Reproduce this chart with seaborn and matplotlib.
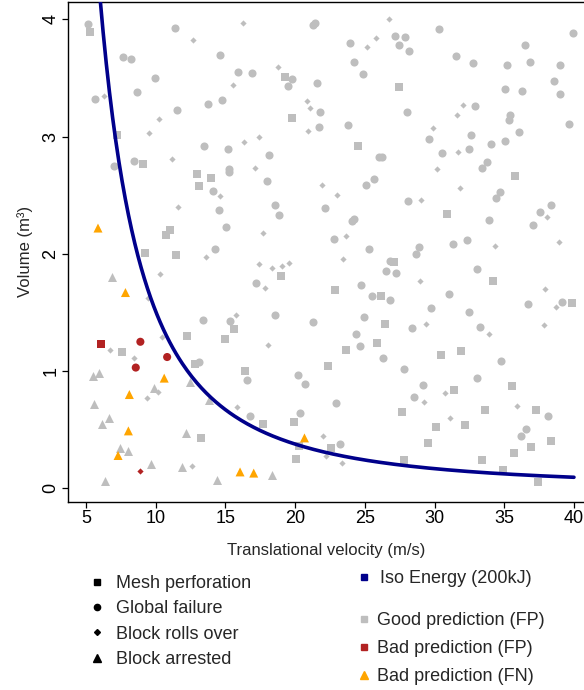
import numpy as np
import pandas as pd
import seaborn as sns
import matplotlib.pyplot as plt
from matplotlib.lines import Line2D

# values: velocity (m/s), volume (m3)
# good predictions, grouped by outcome
square_vel = [5.31, 7.25, 9.12, 19.26, 19.76, 27.45, 24.5, 12.93, 13.96, 13.07, 10.75, 11.04, 9.26,
              11.42, 15.64, 27.07, 18.97, 22.85, 26.16, 26.45, 35.79, 30.9, 34.21, 39.89, 12.28, 14.94,
              7.56, 12.84, 13.22, 25.87, 23.64, 22.35, 16.38, 27.67, 17.67, 19.9, 20.26, 22.56, 20.07,
              27.81, 30.47, 31.91, 35.57, 31.41, 33.63, 37.3, 30.11, 32.2, 29.53, 36.94, 38.38, 35.72,
              33.42, 34.93, 37.45]
square_vol = [3.89, 3.01, 2.77, 3.51, 3.16, 3.42, 2.92, 2.68, 2.65, 2.58, 2.16, 2.20, 2.01,
              1.99, 1.36, 1.93, 1.81, 1.69, 1.64, 1.40, 2.66, 2.34, 1.77, 1.58, 1.30, 1.27,
              1.16, 1.06, 0.43, 1.24, 1.18, 1.04, 1.00, 0.65, 0.55, 0.57, 0.36, 0.34, 0.25,
              0.24, 1.14, 1.17, 0.87, 0.84, 0.67, 0.67, 0.52, 0.54, 0.39, 0.35, 0.40, 0.30,
              0.24, 0.16, 0.05]

circle_vel = [5.12, 11.35, 14.63, 7.68, 8.26, 15.9, 9.96, 8.69, 5.65, 11.52, 13.72, 14.78, 13.48,
              15.16, 7.03, 8.43, 15.26, 21.27, 21.41, 27.18, 27.9, 23.91, 27.46, 28.2, 24.19, 24.84,
              28.05, 19.76, 19.47, 21.58, 16.91, 21.77, 21.7, 23.79, 25.99, 26.26, 18.13, 30.33,
              39.94, 36.49, 31.53, 32.77, 35.17, 36.82, 39.0, 38.6, 39.0, 35.07, 36.25, 32.89, 35.41,
              35.34, 39.67, 29.61, 32.65, 34.02, 35.02, 36.03, 30.52, 32.44, 33.76, 33.4, 15.28,
              14.13, 14.51, 15.02, 14.25, 13.38, 15.3, 17.99, 25.06, 25.65, 28.09, 18.59, 18.83,
              22.16, 24.05, 24.22, 22.76, 25.3, 26.83, 26.54, 27.23, 17.22, 24.72, 25.49, 26.83,
              18.54, 21.29, 24.91, 28.39, 34.69, 34.4, 33.88, 38.33, 37.57, 37.09, 28.87, 28.7,
              31.29, 32.32, 33.06, 31.07, 29.78, 32.5, 36.72, 39.17, 33.27, 13.1, 24.36, 24.65,
              26.32, 27.79, 16.57, 20.22, 20.72, 22.95, 16.76, 20.36, 23.24, 34.76, 29.15, 33.01,
              28.56, 38.12, 36.58, 36.17]
circle_vol = [3.96, 3.93, 3.70, 3.68, 3.66, 3.55, 3.50, 3.38, 3.32, 3.23, 3.28, 3.31, 2.92,
              2.89, 2.75, 2.79, 2.72, 3.95, 3.97, 3.86, 3.85, 3.80, 3.78, 3.73, 3.64, 3.53,
              3.21, 3.49, 3.43, 3.46, 3.54, 3.21, 3.08, 3.10, 2.83, 2.83, 2.84, 3.92,
              3.88, 3.78, 3.69, 3.63, 3.61, 3.64, 3.61, 3.47, 3.36, 3.41, 3.39, 3.26, 3.18,
              3.14, 3.11, 2.98, 3.01, 2.94, 2.96, 3.04, 2.86, 2.89, 2.78, 2.73, 2.70,
              2.54, 2.37, 2.23, 2.04, 1.44, 1.43, 2.62, 2.59, 2.64, 2.45, 2.42, 2.33,
              2.39, 2.28, 2.30, 2.13, 2.04, 1.94, 1.85, 1.84, 1.75, 1.73, 1.64, 1.61,
              1.48, 1.42, 1.46, 1.37, 2.53, 2.48, 2.29, 2.42, 2.36, 2.25, 2.06, 2.00,
              2.08, 2.12, 1.87, 1.66, 1.54, 1.50, 1.57, 1.59, 1.38, 1.08, 1.32, 1.21,
              1.11, 1.02, 0.92, 0.97, 0.89, 0.73, 0.62, 0.64, 0.38, 1.09, 0.88, 0.94,
              0.78, 0.62, 0.51, 0.45]

diamond_vel = [12.64, 15.52, 6.27, 10.25, 9.55, 11.2, 16.24, 26.76, 25.8, 25.15, 18.8, 20.84, 21.1,
               20.94, 16.36, 17.44, 17.15, 32.03, 31.6, 29.9, 31.69, 30.16, 14.61, 11.59, 13.6,
               10.32, 9.43, 15.76, 21.91, 23.02, 17.72, 23.64, 23.42, 17.41, 18.37, 19.07, 19.59,
               17.82, 31.84, 29.05, 38.07, 34.35, 38.91, 28.96, 37.95, 38.74, 29.39, 37.83, 6.75,
               8.45, 10.46, 10.15, 9.34, 15.8, 12.62, 18.08, 22.01, 22.24, 23.36, 33.92, 29.25,
               30.78, 35.88, 31.12]
diamond_vol = [3.82, 3.44, 3.35, 3.15, 3.03, 2.81, 3.97, 4.00, 3.84, 3.76, 3.59, 3.30, 3.24,
               3.05, 2.95, 3.00, 2.73, 3.27, 3.18, 3.07, 2.87, 2.72, 2.49, 2.40, 1.97,
               1.83, 1.62, 1.48, 2.59, 2.50, 2.18, 2.15, 1.96, 1.91, 1.88, 1.90, 1.92,
               1.71, 2.56, 2.46, 2.31, 2.07, 2.10, 1.77, 1.70, 1.55, 1.40, 1.39, 1.18,
               1.11, 1.29, 0.82, 0.77, 0.69, 0.19, 1.22, 0.45, 0.28, 0.22, 1.32, 0.74,
               0.81, 0.70, 0.60]

triangle_vel = [6.89, 5.48, 5.93, 12.43, 9.91, 13.82, 5.6, 6.63, 6.17, 12.14, 7.44, 8.0, 9.69,
                11.88, 6.39, 14.37, 18.32]
triangle_vol = [1.80, 0.96, 0.98, 0.91, 0.86, 0.75, 0.72, 0.60, 0.55, 0.47, 0.34, 0.32, 0.21,
                0.18, 0.06, 0.07, 0.11]

# bad predictions
bad_fp_vel = [6.08, 8.9, 10.82, 8.57, 8.88]
bad_fp_vol = [1.23, 1.25, 1.12, 1.03, 0.15]
bad_fp_outcome = ["Mesh perforation", "Global failure", "Global failure", "Global failure",
                  "Block rolls over"]

bad_fn_vel = [5.86, 7.83, 10.61, 8.11, 8.04, 7.3, 16.05, 17.03, 20.67]
bad_fn_vol = [2.22, 1.67, 0.94, 0.80, 0.49, 0.28, 0.14, 0.13, 0.43]

# iso energy line: E = 0.5 * rho * V * v^2
energy = 200e3
rho = 2650

outcomes = ["Mesh perforation", "Global failure", "Block rolls over", "Block arrested"]
markers = {"Mesh perforation": "s", "Global failure": "o", "Block rolls over": "D", "Block arrested": "^"}
sizes = {"Mesh perforation": 40, "Global failure": 34, "Block rolls over": 10, "Block arrested": 42}
pred_colors = {"Good prediction (FP)": "#bebebe", "Bad prediction (FP)": "#b22222",
               "Bad prediction (FN)": "#ffa500"}
iso_color = "#00008b"

good = pd.concat([
    pd.DataFrame({"vel": square_vel, "vol": square_vol, "outcome": "Mesh perforation"}),
    pd.DataFrame({"vel": circle_vel, "vol": circle_vol, "outcome": "Global failure"}),
    pd.DataFrame({"vel": diamond_vel, "vol": diamond_vol, "outcome": "Block rolls over"}),
    pd.DataFrame({"vel": triangle_vel, "vol": triangle_vol, "outcome": "Block arrested"}),
])
good["pred"] = "Good prediction (FP)"
bad = pd.concat([
    pd.DataFrame({"vel": bad_fp_vel, "vol": bad_fp_vol, "outcome": bad_fp_outcome,
                  "pred": "Bad prediction (FP)"}),
    pd.DataFrame({"vel": bad_fn_vel, "vol": bad_fn_vol, "outcome": "Block arrested",
                  "pred": "Bad prediction (FN)"}),
])

sns.set_style("ticks")
plt.rcParams['font.family'] = ['Liberation Sans', 'DejaVu Sans']

fig = plt.figure(figsize=(5.84, 6.90), dpi=100)
ax = fig.add_axes([68 / 584, 1 - 501.7 / 690, 1 - 68 / 584, 499.7 / 690])

for o in outcomes:
    sub = good[good["outcome"] == o]
    sns.scatterplot(data=sub, x="vel", y="vol", color=pred_colors["Good prediction (FP)"],
                    marker=markers[o], s=sizes[o], linewidth=0, ax=ax, zorder=2, legend=False)

v_line = np.linspace(6.0, 40, 300)
ax.plot(v_line, 2 * energy / (rho * v_line ** 2), color=iso_color, lw=2.6, zorder=3)

for o in outcomes:
    sub = bad[bad["outcome"] == o]
    if len(sub) == 0:
        continue
    sns.scatterplot(data=sub, x="vel", y="vol", hue="pred", palette=pred_colors,
                    marker=markers[o], s=sizes[o], linewidth=0, ax=ax, zorder=4, legend=False)

ax.set_xlim(3.709, 40.72)
ax.set_ylim(-0.114, 4.148)
ax.set_xticks([5, 10, 15, 20, 25, 30, 35, 40])
ax.set_yticks([0, 1, 2, 3, 4])
ax.tick_params(axis="both", labelsize=13, length=4.3, width=0.9, color="black", labelcolor="black")
ax.tick_params(axis="x", pad=1.5)
ax.tick_params(axis="y", pad=2)
for lab in ax.get_yticklabels():
    lab.set_rotation(90)
    lab.set_va("center")
ax.spines["right"].set_visible(False)
for sp in ["left", "bottom", "top"]:
    ax.spines[sp].set_color("black")
    ax.spines[sp].set_linewidth(1.0)
ax.set_xlabel("Translational velocity (m/s)", fontsize=12, labelpad=11.5)
ax.set_ylabel("Volume (m³)", fontsize=12, labelpad=7)

# legends below the plot
shape_handles = [
    Line2D([], [], ls="", marker="s", color="black", markersize=5),
    Line2D([], [], ls="", marker="o", color="black", markersize=4.5),
    Line2D([], [], ls="", marker="D", color="black", markersize=3),
    Line2D([], [], ls="", marker="^", color="black", markersize=5.5),
]
leg1 = fig.legend(shape_handles, outcomes, loc="upper left", bbox_to_anchor=(88 / 584, 1 - 575 / 690),
                  frameon=False, fontsize=13, handlelength=1.0, handletextpad=0.55,
                  labelspacing=0.46, borderaxespad=0, borderpad=0)

iso_handle = [Line2D([], [], ls="", marker="s", color=iso_color, markersize=5)]
leg2 = fig.legend(iso_handle, ["Iso Energy (200kJ)"], loc="upper left",
                  bbox_to_anchor=(355 / 584, 1 - 570 / 690), frameon=False, fontsize=13,
                  handlelength=1.0, handletextpad=0.41, borderaxespad=0, borderpad=0)

pred_handles = [
    Line2D([], [], ls="", marker="s", color=pred_colors["Good prediction (FP)"], markersize=5),
    Line2D([], [], ls="", marker="s", color=pred_colors["Bad prediction (FP)"], markersize=5),
    Line2D([], [], ls="", marker="^", color=pred_colors["Bad prediction (FN)"], markersize=5.5),
]
leg3 = fig.legend(pred_handles, list(pred_colors.keys()), loc="upper left",
                  bbox_to_anchor=(355 / 584, 1 - 612 / 690), frameon=False, fontsize=13,
                  handlelength=1.0, handletextpad=0.21, labelspacing=0.62, borderaxespad=0, borderpad=0)

fig.savefig("out.png", dpi=100)
